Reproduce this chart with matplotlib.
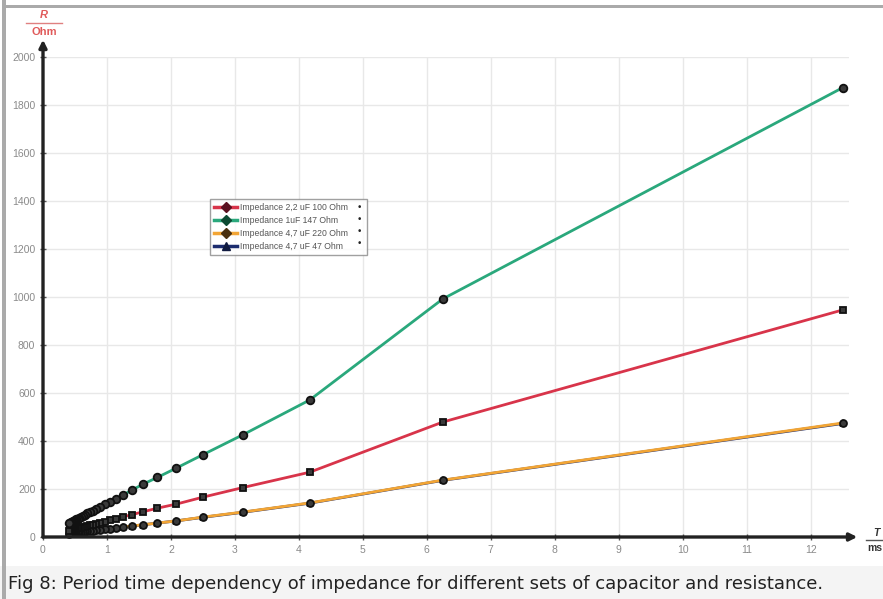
import matplotlib
matplotlib.use("Agg")
import matplotlib.pyplot as plt
from matplotlib.patches import Rectangle
from matplotlib.lines import Line2D

# ---- data ----
period_ms = [12.5, 6.25, 4.17, 3.125, 2.5, 2.083, 1.786, 1.5625, 1.389, 1.25, 1.136,
             1.042, 0.962, 0.893, 0.833, 0.781, 0.735, 0.694, 0.658, 0.625, 0.595,
             0.568, 0.543, 0.521, 0.5, 0.481, 0.463, 0.446, 0.431, 0.417, 0.403]
imp_22uF_100 = [946, 479, 270, 206, 166, 137, 120, 105, 93, 84, 76, 70, 64, 60, 56, 52,
                49, 46, 43, 41, 39, 37, 36, 34, 33, 32, 30, 29, 28, 28, 27]
imp_1uF_147 = [1872, 992, 571, 426, 343, 287, 248, 220, 195, 175, 160, 147, 136, 126,
               118, 110, 104, 98, 93, 88, 84, 80, 77, 74, 71, 68, 66, 63, 61, 59, 57]
imp_47uF_220 = [475, 237, 142, 104, 83, 67, 58, 51, 46, 42, 38, 35, 33, 31, 29, 27, 25,
                24, 23, 22, 21, 20, 19, 18, 18, 17, 16, 16, 15, 15, 14]
imp_47uF_47 = [473, 236, 141, 103, 82, 67, 58, 51, 45, 41, 38, 35, 32, 30, 28, 26, 25,
               24, 22, 21, 20, 19, 19, 18, 17, 17, 16, 15, 15, 14, 14]
labels = ["Impedance 2,2 uF 100 Ohm", "Impedance 1uF 147 Ohm",
          "Impedance 4,7 uF 220 Ohm", "Impedance 4,7 uF 47 Ohm"]
x_ticks = list(range(0, 13))
y_ticks = list(range(0, 2001, 200))
caption = "Fig 8: Period time dependency of impedance for different sets of capacitor and resistance."

W, H = 883, 599
fig = plt.figure(figsize=(W / 100, H / 100), dpi=100)
fig.patch.set_facecolor("white")

def px(x0, y0, w, h):
    """figure-fraction rect from pixel coords (top-left origin)"""
    return (x0 / W, 1 - (y0 + h) / H, w / W, h / H)

# caption background and border
fig.patches.append(Rectangle(px(0, 566, W, 33)[:2], 1, 33 / H, transform=fig.transFigure,
                             facecolor="#f4f4f4", edgecolor="none", zorder=0))
fig.patches.append(Rectangle(px(2, 0, 4, H)[:2], 4 / W, 1, transform=fig.transFigure,
                             facecolor="#aaaaaa", edgecolor="none", zorder=1))
fig.patches.append(Rectangle(px(2, 5, W, 3)[:2], 1, 3 / H, transform=fig.transFigure,
                             facecolor="#aaaaaa", edgecolor="none", zorder=1))
fig.text(8 / W, 1 - 584 / H, caption, fontsize=13.0, color="#222222",
         family="DejaVu Sans", va="center", ha="left")

# axes: x 0..12.6 -> px 43..849, y 0..2000 -> px 537..57
ax = fig.add_axes(px(43, 57, 806, 480))
ax.set_xlim(0, 12.6)
ax.set_ylim(0, 2000)
ax.patch.set_alpha(0)
for s in ax.spines.values():
    s.set_visible(False)
ax.set_xticks(x_ticks)
ax.set_yticks(y_ticks)
ax.grid(True, color="#e8e8e8", lw=1.0)
ax.set_axisbelow(True)
ax.tick_params(direction="inout", length=5, width=1, color="#555555",
               labelcolor="#8a8a8a", labelsize=7.5, pad=3)
for t in ax.get_xticklabels() + ax.get_yticklabels():
    t.set_family("Liberation Sans")

# axis arrows
arrow = dict(arrowstyle="-|>", lw=2.4, color="#222222", mutation_scale=11, shrinkA=0, shrinkB=0)
ax.annotate("", xy=(12.73, 0), xytext=(0, 0), arrowprops=arrow, annotation_clip=False, zorder=5)
ax.annotate("", xy=(0, 2072), xytext=(0, 0), arrowprops=arrow, annotation_clip=False, zorder=5)

# series
series = [
    (imp_47uF_47, "#1c2c6e", "^", 5),
    (imp_47uF_220, "#f2a535", "o", 5),
    (imp_22uF_100, "#d8344a", "s", 4.2),
    (imp_1uF_147, "#2aa87c", "o", 5.5),
]
for vals, col, mk, ms in series:
    ax.plot(period_ms, vals, color=col, lw=2.0, marker=mk, markersize=ms,
            markerfacecolor="#3a3a3a", markeredgecolor="#111111", markeredgewidth=1.3,
            clip_on=False, zorder=3)

leg_handles = [
    Line2D([], [], color="#d8344a", lw=2.5, marker="D", ms=5, mfc="#5a1020", mec="#5a1020"),
    Line2D([], [], color="#2aa87c", lw=2.5, marker="D", ms=5, mfc="#0d4a33", mec="#0d4a33"),
    Line2D([], [], color="#f2a535", lw=2.5, marker="D", ms=5, mfc="#4a3010", mec="#4a3010"),
    Line2D([], [], color="#1c2c6e", lw=2.5, marker="^", ms=6, mfc="#101a40", mec="#101a40"),
]
leg = fig.legend(leg_handles, labels, loc="upper left", mode="expand",
                 bbox_to_anchor=(210 / W, 1 - 253 / H, 157 / W, 54 / H),
                 bbox_transform=fig.transFigure, frameon=True, fancybox=False,
                 handlelength=2.6, handletextpad=0.4, borderpad=0.5, labelspacing=0.45,
                 borderaxespad=0, prop={"family": "Liberation Sans", "size": 6.2})
leg.get_frame().set_edgecolor("#888888")
leg.get_frame().set_linewidth(1.0)
for t in leg.get_texts():
    t.set_color("#555555")
for yy in (208, 220, 232, 244):
    fig.text(359 / W, 1 - yy / H, "\u2022", fontsize=6.5, color="#222222", ha="center",
             va="center", zorder=10)

# unit labels
fig.text(44 / W, 1 - 15 / H, "R", fontsize=8, color="#e05a5a", style="italic",
         weight="bold", ha="center", va="center", family="Liberation Sans")
fig.add_artist(Line2D([26 / W, 62 / W], [1 - 23 / H, 1 - 23 / H], color="#e08080", lw=1))
fig.text(44 / W, 1 - 32 / H, "Ohm", fontsize=8, color="#e05a5a", weight="bold",
         ha="center", va="center", family="Liberation Sans")
fig.text(876 / W, 1 - 533 / H, "T", fontsize=7.5, color="#333333", style="italic",
         weight="bold", ha="center", va="center", family="Liberation Sans")
fig.add_artist(Line2D([866 / W, 1.0], [1 - 540 / H, 1 - 540 / H], color="#555555", lw=1))
fig.text(867 / W, 1 - 548 / H, "ms", fontsize=7.5, color="#333333", weight="bold",
         ha="left", va="center", family="Liberation Sans")

fig.savefig("out.png", dpi=100)
